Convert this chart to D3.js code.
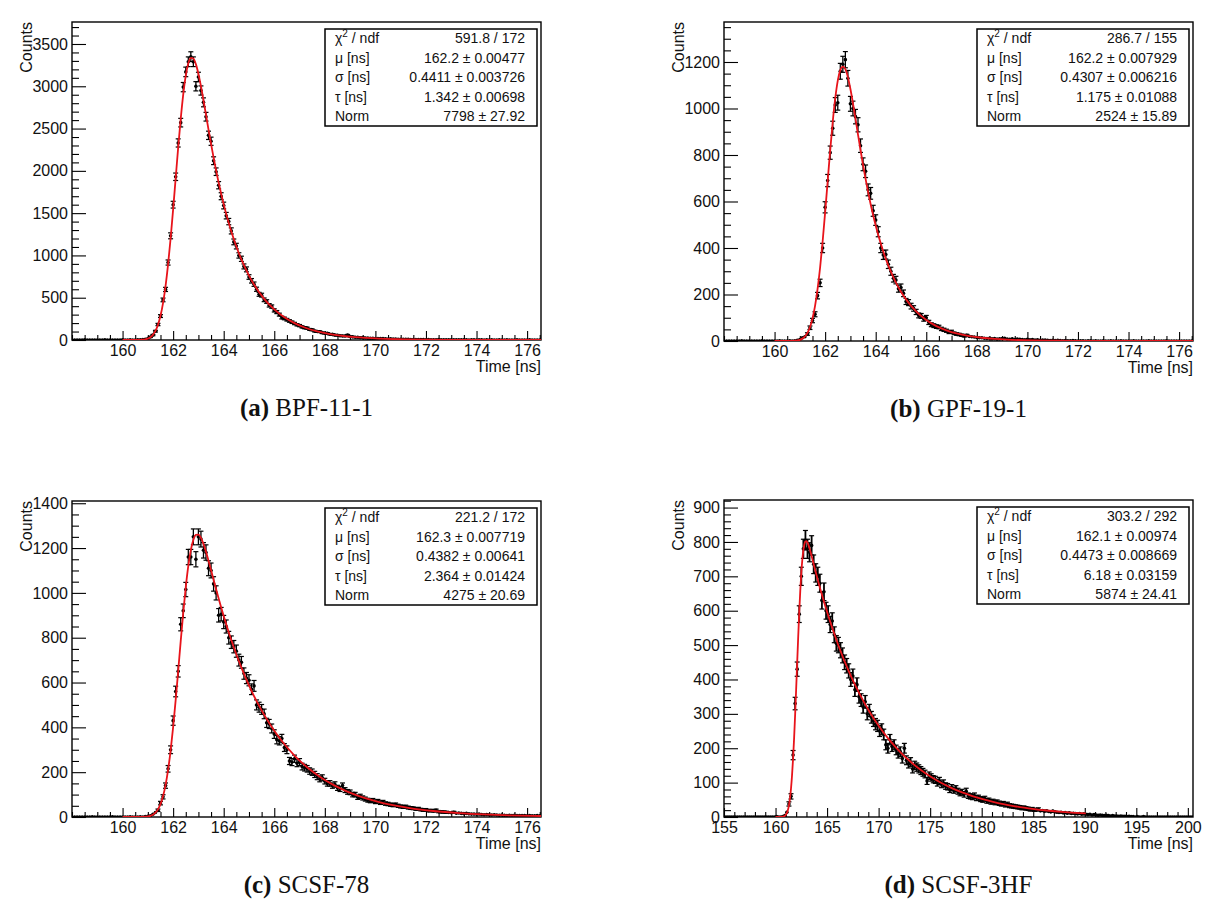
<!DOCTYPE html>
<html>
<head>
<meta charset="utf-8">
<script src="https://cdnjs.cloudflare.com/ajax/libs/d3/7.8.5/d3.min.js"></script>
<style>
body{margin:0;background:#fff;}
svg text{font-family:"Liberation Sans",Arial,sans-serif;fill:#111;}
text.cap{font-family:"Liberation Serif","Times New Roman",serif;}
</style>
</head>
<body>
<script>
// counts per 0.1 ns bin, first bin centre at start*
var startA = 158.1, startB = 158.1, startC = 158.1, startD = 155.1;
var stepA = 0.1, stepB = 0.1, stepC = 0.1, stepD = 0.2;

var countsA = [0,0,0,0,1,0,0,0,0,0,0,0,1,0,0,0,0,0,0,1,0,0,1,0,0,1,
	2,5,9,16,35,58,104,183,283,474,598,916,1232,1600,1930,2330,2570,2990,3170,3290,3350,3290,3000,3110,2950,2810,2640,2420,2350,2120,
	1990,1830,1700,1590,1470,1400,1290,1160,1110,1000,960,870,835,745,700,660,600,540,530,475,455,410,395,350,330,300,265,255,240,225,
	210,195,180,170,155,145,140,125,120,105,100,98,85,80,78,68,66,58,57,50,48,47,58,40,37,33,32,27,28,24,22,21,20,18,17,16,16,13,12,13,
	10,10,9,8,8,7,8,6,5,6,4,5,4,3,4,3,
	3,2,4,2,2,3,1,2,2,1,2,1,1,2,0,1,1,0,1,1,0,1,0,1,0,0,1,0,0,1,0,0,0,1,0,0,0,0,1,0,0,0,0];

var countsB = [0,0,0,0,0,0,1,0,0,0,0,0,0,0,1,0,0,0,0,0,0,1,0,0,0,1,
	0,1,3,6,14,18,30,57,88,115,195,250,400,575,690,810,915,1015,1025,1160,1190,1210,1130,1020,1000,965,930,840,760,730,650,635,560,520,
	470,400,370,372,330,300,270,262,225,230,205,170,165,150,140,125,110,108,95,100,80,70,66,62,60,52,48,44,38,40,33,30,28,25,22,24,
	20,18,17,15,14,14,12,11,12,9,10,8,9,10,12,8,7,9,6,8,7,6,5,7,5,6,4,5,3,4,4,3,2,3,2,3,
	2,1,2,1,1,2,1,0,1,1,0,1,1,0,1,0,0,1,0,0,1,0,0,0,1,0,0,0,0,1,0,0,0,0,0,1,0,0,0,0,0,0,1,0,0,0,0,0,0,0,0,0,0];

var countsC = [0,0,0,0,0,0,0,1,0,0,0,0,0,0,0,1,0,0,0,0,0,0,1,0,0,0,1,
	0,2,3,5,12,20,30,62,90,140,215,300,430,560,650,860,920,1015,1160,1160,1250,1150,1250,1240,1190,1180,1110,1100,1040,1000,
	900,905,870,850,800,780,760,740,700,690,640,620,610,570,585,500,490,480,460,420,415,395,370,345,340,350,310,300,250,245,
	260,240,245,225,220,215,205,200,190,180,170,175,160,150,150,140,145,130,125,140,120,112,110,100,100,88,92,85,80,75,
	72,74,68,70,64,66,60,58,55,53,55,50,47,45,46,42,40,39,36,37,33,31,32,28,29,27,30,24,23,22,21,20,19,21,17,18,16,15,16,14,
	13,13,12,13,11,10,11,10,9,10,9,8,9,8,7,8,7,8,7,6,7,6,5,6,5,5,6,5];

var countsD = [0,0,0,0,0,0,0,0,0,0,0,0,0,0,0,0,0,0,0,0,0,0,0,0,0,1,0,0,1,
	4,14,38,60,180,330,430,590,700,780,805,780,770,790,735,710,700,680,630,655,600,590,560,570,530,505,500,485,470,450,
	440,425,400,410,370,385,350,340,320,335,300,310,290,280,270,265,250,255,240,210,200,225,205,210,195,185,190,170,200,165,
	155,160,140,150,145,140,135,130,125,105,120,115,110,108,100,105,95,98,90,88,80,85,78,82,75,70,72,66,75,62,
	60,58,62,55,56,52,50,53,47,48,44,45,42,43,40,38,39,35,37,33,32,31,30,29,28,26,27,25,24,22,23,21,20,22,18,19,
	17,18,16,15,17,15,14,13,14,12,13,11,12,10,11,10,9,10,8,9,8,7,8,6,7,6,5,6,5,4,5,4,3,4,3,3,2,3,2,2,1,2,1,
	1,0,1,0,0,1,0,0,0,0,0,0,0,0,0,0,0,0,0,0,0,0,0,0,0,0,0,0,0,0];

// fitted curves: [time ns, counts]
var fitA = [[160.0,0],[160.6,0.8],[160.7,1.8],[160.8,4],[160.9,8.5],[161.0,17],[161.1,33],[161.2,61],[161.3,107],[161.4,179],
	[161.5,286],[161.6,437],[161.7,638],[161.8,894],[161.9,1200],[162.0,1545],[162.1,1912],[162.2,2277],[162.3,2615],[162.4,2905],
	[162.5,3126],[162.6,3271],[162.7,3336],[162.8,3329],[162.9,3262],[163.0,3147],[163.1,3001],[163.2,2835],[163.3,2661],[163.4,2487],
	[163.5,2318],[163.6,2156],[163.8,1861],[164.0,1604],[164.2,1382],[164.4,1191],[164.6,1026],[164.8,884],[165.0,762],[165.2,656],
	[165.6,487],[166.0,362],[166.4,268],[166.8,199],[167.2,148],[167.7,102],[168.2,70],[169.2,33],[170.2,15.6],[171.2,7.4],
	[172.2,3.5],[174.2,0.8],[176.55,0.2]];

var fitB = [[160.0,0],[160.7,0.5],[160.8,1.1],[160.9,2.5],[161.0,5.2],[161.1,10.2],[161.2,19.3],[161.3,34.8],[161.4,59.4],[161.5,96.6],
	[161.6,150],[161.7,223],[161.8,315],[161.9,427],[162.0,553],[162.1,687],[162.2,820],[162.3,942],[162.4,1044],[162.5,1120],
	[162.6,1165],[162.7,1180],[162.8,1169],[162.9,1135],[163.0,1084],[163.1,1023],[163.2,956],[163.3,888],[163.4,821],[163.5,757],
	[163.6,697],[163.8,588],[164.0,497],[164.2,419],[164.4,353],[164.6,298],[164.8,251],[165.0,212],[165.2,179],[165.6,127],
	[166.0,90],[166.4,64],[166.8,46],[167.2,32.5],[167.7,21.3],[168.2,13.9],[168.7,9.1],[169.2,5.9],[170.2,2.5],[171.2,1.1],
	[172.2,0.45],[176.55,0.05]];

var fitC = [[160.0,0],[160.7,0.23],[160.8,0.53],[160.9,1.2],[161.0,2.6],[161.1,5.3],[161.2,10.3],[161.3,19.1],[161.4,33.9],[161.5,57.2],
	[161.6,92.3],[161.7,142.3],[161.8,210],[161.9,296.5],[162.0,401.4],[162.1,521.6],[162.2,651.8],[162.3,784.6],[162.4,912],[162.5,1025.8],
	[162.6,1120.1],[162.7,1190.7],[162.8,1236.5],[162.9,1258.7],[163.0,1260.2],[163.1,1245.4],[163.2,1218.5],[163.3,1183.4],[163.4,1143.7],
	[163.5,1101.6],[163.6,1058.7],[163.7,1016.2],[163.8,974.9],[164.0,896.3],[164.3,789.6],[164.7,666.8],[165.1,563.1],[165.5,475.5],
	[165.9,401.5],[166.3,339],[166.8,274.4],[167.3,222.1],[167.8,179.8],[168.3,145.5],[168.8,117.8],[169.3,95.3],[169.8,77.2],
	[170.3,62.4],[170.8,50.5],[171.3,40.9],[171.8,33.1],[172.3,26.8],[173.3,17.6],[174.3,11.5],[175.3,7.5],[176.55,4.5]];

var fitD = [[160.0,0],[160.6,0.37],[160.7,0.81],[160.8,1.7],[160.9,3.4],[161.0,6.5],[161.1,11.8],[161.2,20.5],[161.3,34],[161.4,54.2],
	[161.5,82.6],[161.6,120.9],[161.7,169.6],[161.8,228.8],[161.9,297],[162.0,371.5],[162.1,449],[162.2,525.2],[162.3,596],[162.4,658.4],
	[162.5,709.6],[162.6,748.9],[162.7,776.4],[162.8,793.2],[162.9,801.2],[163.0,802.3],[163.1,798.2],[163.2,790.8],[163.3,781.2],
	[163.5,759],[163.7,735.4],[164.1,689.5],[164.6,636],[165.1,586.6],[166.1,498.9],[167.1,424.3],[168.1,360.9],[169.1,307],
	[170.1,261.2],[171.1,222.1],[172.1,189],[173.1,160.7],[174.1,136.7],[175.1,116.3],[176.1,98.9],[177.1,84.1],[178.1,71.6],
	[179.1,60.9],[180.1,51.8],[181.1,44.1],[182.1,37.5],[183.1,31.9],[184.1,27.1],[185.1,23.1],[186.1,19.6],[187.1,16.7],
	[188.1,14.2],[189.1,12.1],[190.1,10.3]];

// fit parameter boxes
var statsA = [['χ2 / ndf','591.8 / 172'],['μ [ns]','162.2 ± 0.00477'],['σ [ns]','0.4411 ± 0.003726'],['τ [ns]','1.342 ± 0.00698'],['Norm','7798 ± 27.92']];
var statsB = [['χ2 / ndf','286.7 / 155'],['μ [ns]','162.2 ± 0.007929'],['σ [ns]','0.4307 ± 0.006216'],['τ [ns]','1.175 ± 0.01088'],['Norm','2524 ± 15.89']];
var statsC = [['χ2 / ndf','221.2 / 172'],['μ [ns]','162.3 ± 0.007719'],['σ [ns]','0.4382 ± 0.00641'],['τ [ns]','2.364 ± 0.01424'],['Norm','4275 ± 20.69']];
var statsD = [['χ2 / ndf','303.2 / 292'],['μ [ns]','162.1 ± 0.00974'],['σ [ns]','0.4473 ± 0.008669'],['τ [ns]','6.18 ± 0.03159'],['Norm','5874 ± 24.41']];

// tick labels
var xTicksABC = [160,162,164,166,168,170,172,174,176];
var xTicksD = [155,160,165,170,175,180,185,190,195,200];
var yTicksA = [0,500,1000,1500,2000,2500,3000,3500];
var yTicksB = [0,200,400,600,800,1000,1200];
var yTicksC = [0,200,400,600,800,1000,1200,1400];
var yTicksD = [0,100,200,300,400,500,600,700,800,900];

var captions = [['(a)',' BPF-11-1'],['(b)',' GPF-19-1'],['(c)',' SCSF-78'],['(d)',' SCSF-3HF']];

var svgW = 1223, svgH = 914;
var svg = d3.select('body').append('svg').attr('width', svgW).attr('height', svgH);

var panels = [
	{id:'a', counts:countsA, start:startA, step:stepA, fit:fitA, stats:statsA, cap:captions[0],
	 xDomain:[158.0,176.55], xTicks:xTicksABC, xMinor:0.5, yMax:3760, yTicks:yTicksA, yMinor:100,
	 left:72, right:541, top:22, bottom:340, errW:1.3},
	{id:'b', counts:countsB, start:startB, step:stepB, fit:fitB, stats:statsB, cap:captions[1],
	 xDomain:[158.0,176.55], xTicks:xTicksABC, xMinor:0.5, yMax:1372, yTicks:yTicksB, yMinor:50,
	 left:724, right:1193, top:22, bottom:341, errW:1.3},
	{id:'c', counts:countsC, start:startC, step:stepC, fit:fitC, stats:statsC, cap:captions[2],
	 xDomain:[158.0,176.55], xTicks:xTicksABC, xMinor:0.5, yMax:1410, yTicks:yTicksC, yMinor:50,
	 left:72, right:541, top:501, bottom:817, errW:1.3},
	{id:'d', counts:countsD, start:startD, step:stepD, fit:fitD, stats:statsD, cap:captions[3],
	 xDomain:[155,200.5], xTicks:xTicksD, xMinor:1, yMax:922, yTicks:yTicksD, yMinor:20,
	 left:724, right:1193, top:500, bottom:817, errW:1.8}
];

function drawPanel(p){
	var x = d3.scaleLinear().domain(p.xDomain).range([p.left, p.right]);
	var y = d3.scaleLinear().domain([0, p.yMax]).range([p.bottom, p.top]);
	var g = svg.append('g').attr('id', 'panel_' + p.id);

	g.append('clipPath').attr('id', 'clip_' + p.id).append('rect')
		.attr('x', p.left).attr('y', p.top).attr('width', p.right - p.left).attr('height', p.bottom - p.top);

	// minor ticks first, then majors with labels
	var xMinors = d3.range(Math.ceil(p.xDomain[0] / p.xMinor) * p.xMinor, p.xDomain[1], p.xMinor)
		.filter(function(d){ return p.xTicks.indexOf(d) < 0; });
	var yMinors = d3.range(p.yMinor, p.yMax, p.yMinor)
		.filter(function(d){ return p.yTicks.indexOf(d) < 0; });

	g.append('g').attr('transform', 'translate(0,' + p.bottom + ')')
		.call(d3.axisBottom(x).tickValues(xMinors).tickSize(-5).tickFormat(''))
		.call(function(s){ s.select('.domain').remove(); });
	g.append('g').attr('transform', 'translate(0,' + p.bottom + ')')
		.call(d3.axisBottom(x).tickValues(p.xTicks).tickSize(-9).tickPadding(5).tickFormat(d3.format('d')))
		.call(function(s){ s.select('.domain').remove(); })
		.attr('font-size', 16).attr('font-family', null);
	g.append('g').attr('transform', 'translate(' + p.left + ',0)')
		.call(d3.axisLeft(y).tickValues(yMinors).tickSize(-7).tickFormat(''))
		.call(function(s){ s.select('.domain').remove(); });
	g.append('g').attr('transform', 'translate(' + p.left + ',0)')
		.call(d3.axisLeft(y).tickValues(p.yTicks).tickSize(-14).tickPadding(4).tickFormat(d3.format('d')))
		.call(function(s){ s.select('.domain').remove(); })
		.attr('font-size', 16).attr('font-family', null);
	g.selectAll('.tick line').attr('stroke', '#000').attr('stroke-width', 1.1);

	g.append('rect').attr('x', p.left).attr('y', p.top)
		.attr('width', p.right - p.left).attr('height', p.bottom - p.top)
		.attr('fill', 'none').attr('stroke', '#000').attr('stroke-width', 1.4);

	// histogram points with poisson error bars
	var bins = p.counts.map(function(c, i){ return {t: p.start + i * p.step, c: c, e: Math.sqrt(c)}; });
	var pts = g.append('g').attr('clip-path', 'url(#clip_' + p.id + ')');
	pts.selectAll('line.err').data(bins.filter(function(d){ return d.c > 0; })).join('line').attr('class', 'err')
		.attr('x1', function(d){ return x(d.t); }).attr('x2', function(d){ return x(d.t); })
		.attr('y1', function(d){ return y(d.c - d.e); }).attr('y2', function(d){ return y(d.c + d.e); })
		.attr('stroke', '#000').attr('stroke-width', p.errW);
	[1, -1].forEach(function(s){
		pts.selectAll('line.cap' + (s > 0 ? 'u' : 'd')).data(bins.filter(function(d){ return d.c > 20; })).join('line')
			.attr('class', 'cap' + (s > 0 ? 'u' : 'd'))
			.attr('x1', function(d){ return x(d.t) - 2.5; }).attr('x2', function(d){ return x(d.t) + 2.5; })
			.attr('y1', function(d){ return y(d.c + s * d.e); }).attr('y2', function(d){ return y(d.c + s * d.e); })
			.attr('stroke', '#000').attr('stroke-width', 1.2);
	});
	pts.selectAll('circle').data(bins).join('circle')
		.attr('cx', function(d){ return x(d.t); }).attr('cy', function(d){ return y(d.c); })
		.attr('r', 1.8).attr('fill', '#000');

	// fit curve
	var line = d3.line().x(function(d){ return x(d[0]); }).y(function(d){ return y(d[1]); }).curve(d3.curveMonotoneX);
	pts.append('path').datum(p.fit).attr('d', line)
		.attr('fill', 'none').attr('stroke', '#e8141b').attr('stroke-width', 1.8);

	// axis titles
	g.append('text').attr('transform', 'translate(' + (p.left - 40) + ',' + p.top + ') rotate(-90)')
		.attr('text-anchor', 'end').attr('font-size', 16).text('Counts');
	g.append('text').attr('x', p.right).attr('y', p.bottom + 32)
		.attr('text-anchor', 'end').attr('font-size', 16).text('Time [ns]');

	// stat box
	var bx0 = p.right - 216, bx1 = p.right - 4, by0 = p.top + 7, rowH = 19.4;
	g.append('rect').attr('x', bx0).attr('y', by0).attr('width', bx1 - bx0).attr('height', rowH * 5)
		.attr('fill', '#fff').attr('stroke', '#000').attr('stroke-width', 1.5);
	p.stats.forEach(function(r, i){
		var yy = by0 + rowH * (i + 1) - 5;
		var t = g.append('text').attr('x', bx0 + 10).attr('y', yy).attr('font-size', 14);
		if (i == 0) {
			t.text('χ');
			t.append('tspan').attr('dy', -6).attr('font-size', 10).text('2');
			t.append('tspan').attr('dy', 6).text(' / ndf');
		} else t.text(r[0]);
		g.append('text').attr('x', bx1 - 12).attr('y', yy).attr('text-anchor', 'end').attr('font-size', 14).text(r[1]);
	});

	// caption under the pad
	var cap = g.append('text').attr('class', 'cap').attr('x', (p.left + p.right) / 2).attr('y', p.bottom + 76)
		.attr('text-anchor', 'middle').attr('font-size', 25);
	cap.append('tspan').attr('font-weight', 'bold').text(p.cap[0]);
	cap.append('tspan').text(p.cap[1]);
}

panels.forEach(drawPanel);
</script>
</body>
</html>
